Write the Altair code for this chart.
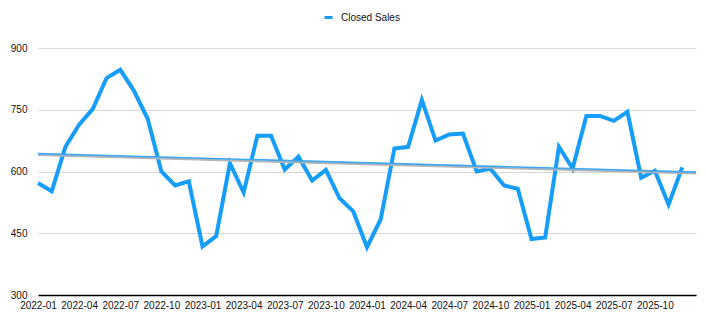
import json
import altair as alt
import pandas as pd

months = [f"{y}-{m:02d}" for y in range(2022, 2026) for m in range(1, 13)]
closed_sales = [
    572, 552, 660, 714, 752, 827, 847, 796, 728, 600, 566, 576,
    418, 443, 620, 549, 687, 687, 605, 636, 578, 604, 535, 503,
    416, 484, 656, 660, 774, 675, 690, 692, 600, 607, 566, 558,
    436, 440, 660, 607, 735, 735, 723, 745, 585, 602, 520, 610,
]
series_name = "Closed Sales"
y_ticks = [300, 450, 600, 750, 900]
x_tick_idx = list(range(0, 48, 3))

df = pd.DataFrame({
    "idx": list(range(len(months))),
    "month": months,
    "value": closed_sales,
    "series": series_name,
})

FONT = "Liberation Sans"
label_expr = json.dumps(months) + "[datum.value]"

x_enc = alt.X(
    "idx:Q",
    scale=alt.Scale(domain=[0, 48], nice=False, zero=False),
    axis=alt.Axis(
        values=x_tick_idx, labelExpr=label_expr, grid=False, ticks=False,
        domain=True, domainColor="#000000", domainWidth=1.5,
        labelPadding=5, labelFontSize=10, labelColor="#111111",
        labelFont=FONT, title=None, labelFlush=False, labelOverlap=False,
    ),
)
y_enc = alt.Y(
    "value:Q",
    scale=alt.Scale(domain=[300, 900], nice=False, zero=False),
    axis=alt.Axis(
        values=y_ticks, grid=True, gridColor="#d8d8d8", gridWidth=1,
        ticks=False, domain=False, labelPadding=11, labelFontSize=10,
        labelColor="#111111", labelFont=FONT, title=None,
    ),
)

base = alt.Chart(df)

line = base.mark_line(strokeWidth=4, strokeJoin="miter", strokeCap="butt").encode(
    x=x_enc,
    y=y_enc,
    color=alt.Color(
        "series:N",
        scale=alt.Scale(domain=[series_name], range=["#169cf9"]),
        legend=alt.Legend(
            orient="none", legendX=285, legendY=-36, title=None,
            symbolType="stroke", symbolStrokeWidth=3, symbolSize=64,
            labelFont=FONT, labelFontSize=10, labelColor="#111111",
            labelOffset=7,
        ),
    ),
)

trend_shadow = base.transform_regression(
    "idx", "value", extent=[0, 48]
).mark_line(color="#b5b5b5", strokeWidth=2, yOffset=1.5).encode(
    x="idx:Q", y="value:Q"
)

trend = base.transform_regression(
    "idx", "value", extent=[0, 48]
).mark_line(color="#3ea6f2", strokeWidth=1.6).encode(
    x="idx:Q", y="value:Q"
)

chart = alt.layer(line, trend_shadow, trend).properties(
    width=658,
    height=247,
    padding={"left": 38, "top": 48, "right": 10, "bottom": 31},
    autosize=alt.AutoSizeParams(type="none"),
).configure(background="white").configure_view(stroke=None)

chart.save("out.html", embed_options={"renderer": "svg", "actions": False})
